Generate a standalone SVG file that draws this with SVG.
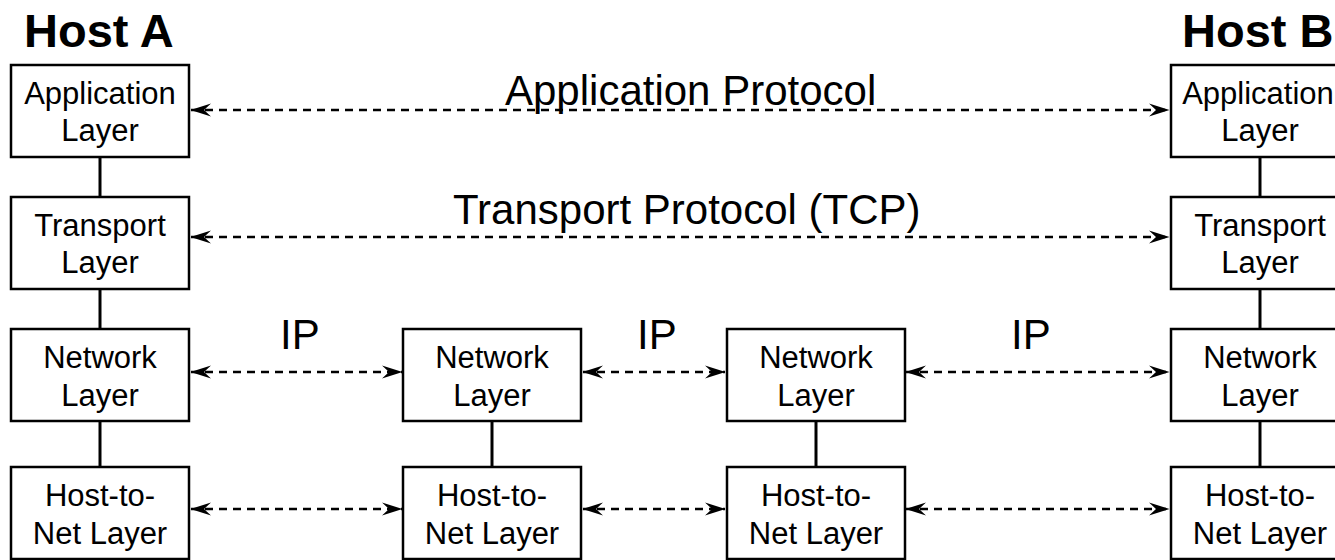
<svg xmlns="http://www.w3.org/2000/svg" width="1335" height="560" viewBox="0 0 1335 560">
<style>
.box{fill:#fff;stroke:#000;stroke-width:2.5}
.bt{font-family:"Liberation Sans",Arial,sans-serif;font-size:31px;fill:#000;text-anchor:middle}
.title{font-family:"Liberation Sans",Arial,sans-serif;font-size:47px;font-weight:bold;fill:#000}
.lbl{font-family:"Liberation Sans",Arial,sans-serif;font-size:42px;fill:#000}
.v{stroke:#000;stroke-width:3;fill:none}
.d{stroke:#000;stroke-width:2.5;fill:none;stroke-dasharray:8 6;marker-start:url(#ah);marker-end:url(#ah)}
</style>
<defs>
<marker id="ah" viewBox="-22 -8 23 16" refX="0" refY="0" markerWidth="23" markerHeight="16" markerUnits="userSpaceOnUse" orient="auto-start-reverse">
<path d="M0.5,0 L-20,-6.5 L-13,0 L-20,6.5 Z" fill="#000"/>
</marker>
</defs>
<rect width="1335" height="560" fill="#fff"/>
<text class="title" x="24" y="47">Host A</text>
<text class="title" x="1182" y="47">Host B</text>
<g id="connectors">
<line class="v" x1="100" y1="157" x2="100" y2="197"/>
<line class="v" x1="100" y1="289" x2="100" y2="329"/>
<line class="v" x1="100" y1="421" x2="100" y2="467"/>
<line class="v" x1="492" y1="421" x2="492" y2="467"/>
<line class="v" x1="816" y1="421" x2="816" y2="467"/>
<line class="v" x1="1260" y1="157" x2="1260" y2="197"/>
<line class="v" x1="1260" y1="289" x2="1260" y2="329"/>
<line class="v" x1="1260" y1="421" x2="1260" y2="467"/>
<line class="d" x1="191" y1="110" x2="1169" y2="110"/>
<line class="d" x1="191" y1="237" x2="1169" y2="237"/>
<line class="d" x1="191" y1="372" x2="402" y2="372"/>
<line class="d" x1="583" y1="372" x2="725" y2="372"/>
<line class="d" x1="906" y1="372" x2="1169" y2="372"/>
<line class="d" x1="191" y1="509" x2="402" y2="509"/>
<line class="d" x1="583" y1="509" x2="725" y2="509"/>
<line class="d" x1="906" y1="509" x2="1169" y2="509"/>
<text class="lbl" x="505" y="105">Application Protocol</text>
<text class="lbl" x="453" y="224">Transport Protocol (TCP)</text>
<text class="lbl" x="280" y="349">IP</text>
<text class="lbl" x="637" y="349">IP</text>
<text class="lbl" x="1011" y="349">IP</text>
</g>
<g id="a-app"><rect class="box" x="11" y="65" width="178" height="92"/><text class="bt" x="100" y="104">Application</text><text class="bt" x="100" y="141">Layer</text></g>
<g id="a-trans"><rect class="box" x="11" y="197" width="178" height="92"/><text class="bt" x="100" y="236">Transport</text><text class="bt" x="100" y="273">Layer</text></g>
<g id="a-net"><rect class="box" x="11" y="329" width="178" height="92"/><text class="bt" x="100" y="368">Network</text><text class="bt" x="100" y="406">Layer</text></g>
<g id="a-h2n"><rect class="box" x="11" y="467" width="178" height="92"/><text class="bt" x="100" y="506">Host-to-</text><text class="bt" x="100" y="544">Net Layer</text></g>
<g id="r1-net"><rect class="box" x="403" y="329" width="178" height="92"/><text class="bt" x="492" y="368">Network</text><text class="bt" x="492" y="406">Layer</text></g>
<g id="r1-h2n"><rect class="box" x="403" y="467" width="178" height="92"/><text class="bt" x="492" y="506">Host-to-</text><text class="bt" x="492" y="544">Net Layer</text></g>
<g id="r2-net"><rect class="box" x="727" y="329" width="178" height="92"/><text class="bt" x="816" y="368">Network</text><text class="bt" x="816" y="406">Layer</text></g>
<g id="r2-h2n"><rect class="box" x="727" y="467" width="178" height="92"/><text class="bt" x="816" y="506">Host-to-</text><text class="bt" x="816" y="544">Net Layer</text></g>
<g id="b-app"><rect class="box" x="1171" y="65" width="178" height="92"/><text class="bt" x="1258" y="104">Application</text><text class="bt" x="1260" y="141">Layer</text></g>
<g id="b-trans"><rect class="box" x="1171" y="197" width="178" height="92"/><text class="bt" x="1260" y="236">Transport</text><text class="bt" x="1260" y="273">Layer</text></g>
<g id="b-net"><rect class="box" x="1171" y="329" width="178" height="92"/><text class="bt" x="1260" y="368">Network</text><text class="bt" x="1260" y="406">Layer</text></g>
<g id="b-h2n"><rect class="box" x="1171" y="467" width="178" height="92"/><text class="bt" x="1260" y="506">Host-to-</text><text class="bt" x="1260" y="544">Net Layer</text></g>
</svg>
